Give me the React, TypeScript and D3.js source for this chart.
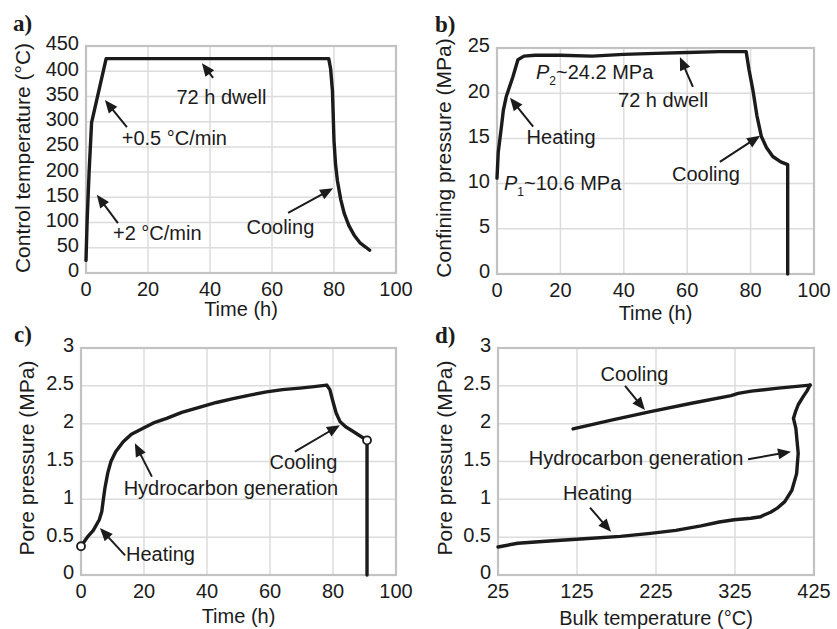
import React from "react";
import * as d3 from "d3";

type Pt = [number, number];

// tick values
const timeTicks = [0, 20, 40, 60, 80, 100];
const tempTicks = [0, 50, 100, 150, 200, 250, 300, 350, 400, 450];
const confTicks = [0, 5, 10, 15, 20, 25];
const poreTicks = [0, 0.5, 1, 1.5, 2, 2.5, 3];
const bulkTicks = [25, 125, 225, 325, 425];

// a) control temperature vs time (h, °C)
const controlTemp: Pt[] = [
  [0, 25], [0.4, 110], [1, 200], [1.8, 298], [6.5, 425], [20, 425], [40, 425],
  [60, 425], [78.3, 425], [78.9, 405], [79.5, 361], [80, 262], [80.5, 215],
  [81.1, 183], [82.2, 145], [83.3, 118], [84.8, 94], [86.5, 75], [88.5, 59],
  [90.3, 51], [91.5, 45],
];

// b) confining pressure vs time (h, MPa)
const confining: Pt[] = [
  [0, 10.6], [0.4, 13.5], [1.4, 16.3], [2, 18.1], [2.9, 19.6], [5, 21.8],
  [6.6, 23.7], [8.5, 24.1], [12, 24.2], [20, 24.2], [30, 24.1], [40, 24.3],
  [50, 24.4], [60, 24.5], [70, 24.6], [78.6, 24.6], [79.5, 22.6], [80.7, 20.4],
  [82, 17.5], [83.4, 15.2], [85, 14], [87, 13], [89.5, 12.4], [91.7, 12.1],
  [91.7, 0],
];

// c) pore pressure vs time (h, MPa)
const poreTime: Pt[] = [
  [0, 0.38], [2, 0.5], [3.9, 0.59], [5.8, 0.73], [6.6, 0.84], [7.1, 1.0],
  [7.6, 1.15], [8.5, 1.35], [9.5, 1.5], [11, 1.63], [13.4, 1.76], [16, 1.86],
  [19.7, 1.94], [23, 2.01], [27.2, 2.07], [32, 2.15], [37.8, 2.22], [43, 2.28],
  [48.3, 2.33], [54, 2.38], [58.9, 2.42], [64, 2.45], [69.5, 2.47], [74, 2.49],
  [78, 2.51], [79, 2.45], [80, 2.29], [81, 2.14], [82.2, 2.03], [84, 1.96],
  [86.3, 1.9], [88.5, 1.84], [90.8, 1.78], [90.8, 0],
];
const poreMarkers: Pt[] = [[0, 0.38], [90.8, 1.78]];

// d) pore pressure vs bulk temperature (°C, MPa)
const poreHeating: Pt[] = [
  [25, 0.37], [50, 0.42], [90, 0.45], [134, 0.48], [180, 0.51], [218, 0.55],
  [250, 0.59], [282, 0.65], [305, 0.7], [324, 0.73], [345, 0.75], [357.6, 0.77],
  [361, 0.79], [370, 0.83], [378, 0.88], [388, 0.97], [397, 1.12], [403, 1.34],
  [405, 1.61], [402, 1.94], [399, 2.07], [402, 2.17], [405, 2.25], [411.5, 2.36],
  [416, 2.43], [420, 2.51],
];
const poreCooling: Pt[] = [
  [420, 2.51], [380, 2.47], [345.7, 2.43], [329, 2.4], [320, 2.37],
  [270, 2.27], [218, 2.16], [170, 2.05], [120, 1.93],
];

interface Note {
  text: string;
  sub?: string;
  rest?: string;
  x: number;
  y: number;
  anchor: "start" | "middle" | "end";
  arrow?: [number, number, number, number];
}

const notesA: Note[] = [
  { text: "72 h dwell", x: 43.7, y: 349, anchor: "middle", arrow: [41, 387, 37.4, 416] },
  { text: "+0.5 °C/min", x: 28.5, y: 268, anchor: "middle", arrow: [13.2, 289, 6.1, 343] },
  { text: "+2 °C/min", x: 23, y: 79, anchor: "middle", arrow: [10.3, 99, 3.5, 155] },
  { text: "Cooling", x: 62.7, y: 91, anchor: "middle", arrow: [65.2, 119, 79.7, 168] },
];
const notesB: Note[] = [
  { text: "P", sub: "2", rest: "~24.2 MPa", x: 12.3, y: 22.3, anchor: "start" },
  { text: "72 h dwell", x: 52.4, y: 19.2, anchor: "middle", arrow: [61.8, 20.7, 57.7, 24] },
  { text: "Heating", x: 20.2, y: 15.2, anchor: "middle", arrow: [11.4, 16.3, 4.1, 19.5] },
  { text: "P", sub: "1", rest: "~10.6 MPa", x: 2.2, y: 10.1, anchor: "start" },
  { text: "Cooling", x: 65.9, y: 11.1, anchor: "middle", arrow: [70.3, 12.4, 83, 15.3] },
];
const notesC: Note[] = [
  { text: "Cooling", x: 70.6, y: 1.49, anchor: "middle", arrow: [67.9, 1.63, 82.2, 1.98] },
  { text: "Hydrocarbon generation", x: 47.6, y: 1.15, anchor: "middle", arrow: [22.5, 1.3, 17.1, 1.74] },
  { text: "Heating", x: 14.3, y: 0.28, anchor: "start", arrow: [14, 0.26, 6, 0.62] },
];
const notesD: Note[] = [
  { text: "Cooling", x: 197.8, y: 2.66, anchor: "middle", arrow: [185.8, 2.5, 211, 2.18] },
  { text: "Hydrocarbon generation", x: 199.7, y: 1.55, anchor: "middle", arrow: [341.5, 1.53, 395.9, 1.63] },
  { text: "Heating", x: 151, y: 1.08, anchor: "middle", arrow: [141.5, 0.89, 168, 0.57] },
];

const SANS = "'Liberation Sans', Arial, Helvetica, sans-serif";
const INK = "#1b1b1b";

interface PanelCfg {
  label: string;
  labelX: number;
  labelY: number;
  left: number;
  top: number;
  width: number;
  height: number;
  xDomain: [number, number];
  yDomain: [number, number];
  xTicks: number[];
  yTicks: number[];
  xTitle: string;
  xTitleY: number;
  yTitle: string;
  yTitleX: number;
  yTitleY: number;
  lines: Pt[][];
  markers?: Pt[];
  notes: Note[];
}

function Arrow({ x1, y1, x2, y2 }: { x1: number; y1: number; x2: number; y2: number }) {
  const dx = x2 - x1;
  const dy = y2 - y1;
  const len = Math.hypot(dx, dy);
  const ux = dx / len;
  const uy = dy / len;
  const hl = 13;
  const hw = 5.5;
  const bx = x2 - ux * hl;
  const by = y2 - uy * hl;
  const head = [
    [x2, y2],
    [bx - uy * hw, by + ux * hw],
    [bx + uy * hw, by - ux * hw],
  ];
  return (
    <g>
      <line x1={x1} y1={y1} x2={bx + ux * 2} y2={by + uy * 2} stroke={INK} strokeWidth={2} />
      <polygon points={head.map((p) => p.join(",")).join(" ")} fill={INK} />
    </g>
  );
}

function Panel({ cfg }: { cfg: PanelCfg }) {
  const x = d3.scaleLinear().domain(cfg.xDomain).range([cfg.left, cfg.left + cfg.width]);
  const y = d3.scaleLinear().domain(cfg.yDomain).range([cfg.top + cfg.height, cfg.top]);
  const line = d3.line<Pt>().x((d) => x(d[0])).y((d) => y(d[1])).curve(d3.curveLinear);
  const bottom = cfg.top + cfg.height;
  const right = cfg.left + cfg.width;

  return (
    <g>
      {/* grid */}
      {cfg.xTicks.slice(1, -1).map((t) => (
        <line key={"gx" + t} x1={x(t)} x2={x(t)} y1={cfg.top} y2={bottom} stroke="#dcdcdc" strokeWidth={1.5} />
      ))}
      {cfg.yTicks.slice(1, -1).map((t) => (
        <line key={"gy" + t} x1={cfg.left} x2={right} y1={y(t)} y2={y(t)} stroke="#dcdcdc" strokeWidth={1.5} />
      ))}
      <rect x={cfg.left} y={cfg.top} width={cfg.width} height={cfg.height} fill="none" stroke="#c2c2c2" strokeWidth={2.2} />

      {/* tick labels */}
      {cfg.yTicks.map((t) => (
        <text key={"ty" + t} x={cfg.left - 7} y={y(t)} dy="0.22em" textAnchor="end" fontSize={20} fill={INK}>
          {String(t)}
        </text>
      ))}
      {cfg.xTicks.map((t) => (
        <text key={"tx" + t} x={x(t)} y={bottom + 23} textAnchor="middle" fontSize={20} fill={INK}>
          {String(t)}
        </text>
      ))}

      {/* titles */}
      <text x={(cfg.left + right) / 2} y={cfg.xTitleY} textAnchor="middle" fontSize={20} fill={INK}>
        {cfg.xTitle}
      </text>
      <text
        transform={`translate(${cfg.yTitleX},${cfg.yTitleY}) rotate(-90)`}
        textAnchor="middle"
        fontSize={21}
        fill={INK}
      >
        {cfg.yTitle}
      </text>
      <text
        x={cfg.labelX}
        y={cfg.labelY}
        fontFamily="'Liberation Serif', 'Times New Roman', serif"
        fontWeight="bold"
        fontSize={23}
        fill={INK}
      >
        {cfg.label}
      </text>

      {/* data */}
      {cfg.lines.map((l, i) => (
        <path key={"l" + i} d={line(l) ?? ""} fill="none" stroke={INK} strokeWidth={3.4} strokeLinejoin="round" strokeLinecap="round" />
      ))}
      {(cfg.markers ?? []).map((m, i) => (
        <circle key={"m" + i} cx={x(m[0])} cy={y(m[1])} r={4} fill="#fff" stroke={INK} strokeWidth={1.8} />
      ))}

      {/* annotations */}
      {cfg.notes.map((n, i) => (
        <g key={"n" + i}>
          {n.arrow && <Arrow x1={x(n.arrow[0])} y1={y(n.arrow[1])} x2={x(n.arrow[2])} y2={y(n.arrow[3])} />}
          <text x={x(n.x)} y={y(n.y)} dy="0.35em" textAnchor={n.anchor} fontSize={20} fill={INK}>
            {n.sub ? (
              <>
                <tspan fontStyle="italic">{n.text}</tspan>
                <tspan fontSize={12} dy={6}>{n.sub}</tspan>
                <tspan dy={-6}>{n.rest}</tspan>
              </>
            ) : (
              n.text
            )}
          </text>
        </g>
      ))}
    </g>
  );
}

const panels: PanelCfg[] = [
  {
    label: "a)", labelX: 13, labelY: 31,
    left: 86, top: 46, width: 310, height: 227,
    xDomain: [0, 100], yDomain: [0, 450], xTicks: timeTicks, yTicks: tempTicks,
    xTitle: "Time (h)", xTitleY: 316, yTitle: "Control temperature (°C)", yTitleX: 30, yTitleY: 158,
    lines: [controlTemp], notes: notesA,
  },
  {
    label: "b)", labelX: 435, labelY: 32,
    left: 497, top: 48, width: 317, height: 226,
    xDomain: [0, 100], yDomain: [0, 25], xTicks: timeTicks, yTicks: confTicks,
    xTitle: "Time (h)", xTitleY: 320, yTitle: "Confining pressure (MPa)", yTitleX: 451, yTitleY: 158,
    lines: [confining], notes: notesB,
  },
  {
    label: "c)", labelX: 14, labelY: 342,
    left: 81, top: 348, width: 315, height: 227,
    xDomain: [0, 100], yDomain: [0, 3], xTicks: timeTicks, yTicks: poreTicks,
    xTitle: "Time (h)", xTitleY: 623, yTitle: "Pore pressure (MPa)", yTitleX: 34, yTitleY: 458,
    lines: [poreTime], markers: poreMarkers, notes: notesC,
  },
  {
    label: "d)", labelX: 435, labelY: 343,
    left: 498, top: 348, width: 316, height: 227,
    xDomain: [25, 425], yDomain: [0, 3], xTicks: bulkTicks, yTicks: poreTicks,
    xTitle: "Bulk temperature (°C)", xTitleY: 625, yTitle: "Pore pressure (MPa)", yTitleX: 452, yTitleY: 458,
    lines: [poreHeating, poreCooling], notes: notesD,
  },
];

export default function App() {
  return (
    <svg
      width={837}
      height={629}
      viewBox="0 0 837 629"
      style={{ position: "absolute", left: 0, top: 0, background: "#fff", fontFamily: SANS }}
    >
      <rect width={837} height={629} fill="#fff" />
      {panels.map((p) => (
        <Panel key={p.label} cfg={p} />
      ))}
    </svg>
  );
}
